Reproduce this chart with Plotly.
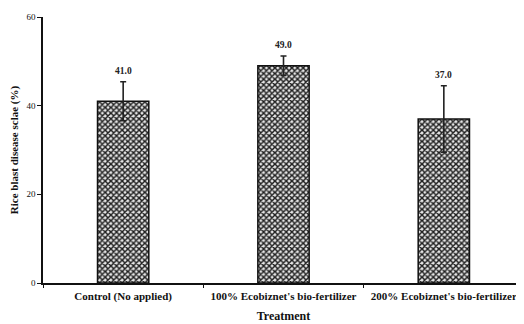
import plotly.graph_objects as go

categories = ["Control (No applied)", "100% Ecobiznet's bio-fertilizer", "200% Ecobiznet's bio-fertilizer"]
values = [41.0, 49.0, 37.0]
errors = [4.4, 2.2, 7.5]
value_labels = ["41.0", "49.0", "37.0"]
y_ticks = [0, 20, 40, 60]

FONT = "Liberation Serif"

fig = go.Figure()
fig.add_trace(go.Bar(
    x=categories,
    y=values,
    width=0.32,
    marker=dict(
        color="white",
        line=dict(color="#111111", width=1.5),
        pattern=dict(shape="x", size=4, solidity=0.6, fgcolor="#1e1e1e", bgcolor="#e6e6e6", fillmode="replace"),
    ),
    error_y=dict(type="data", array=errors, visible=True, color="#222222", thickness=1.6, width=3),
    showlegend=False,
))

for c, v, e, t in zip(categories, values, errors, value_labels):
    fig.add_annotation(x=c, y=v + e, text="<b>" + t + "</b>", showarrow=False,
                       yshift=11, font=dict(family=FONT, size=9.5, color="#222222"))

fig.update_layout(
    width=516, height=316,
    margin=dict(l=35, r=0, t=9, b=41),
    plot_bgcolor="white", paper_bgcolor="white",
    font=dict(family=FONT, color="#111111"),
)
fig.update_xaxes(
    showline=True, linecolor="#111111", linewidth=1.5,
    ticks="outside", tickson="boundaries", ticklen=3, tickcolor="#111111",
    tickfont=dict(family=FONT, size=11, color="#111111"),
    tickprefix="<b>", ticksuffix="</b>",
    ticklabelstandoff=2,
    title=dict(text="<b>Treatment</b>", font=dict(family=FONT, size=12, color="#111111"), standoff=10),
    automargin=False,
)
fig.update_yaxes(
    range=[0, 60], tickvals=y_ticks,
    showline=True, linecolor="#111111", linewidth=1.5,
    ticks="outside", ticklen=4, tickcolor="#111111",
    tickfont=dict(family=FONT, size=9, color="#111111"),
    tickprefix="<b>", ticksuffix="</b>",
    showgrid=False, zeroline=False,
    title=dict(text="<b>Rice blast disease sclae (%)</b>", font=dict(family=FONT, size=11, color="#111111"), standoff=10),
    automargin=False,
)

fig.write_html("out.html")
